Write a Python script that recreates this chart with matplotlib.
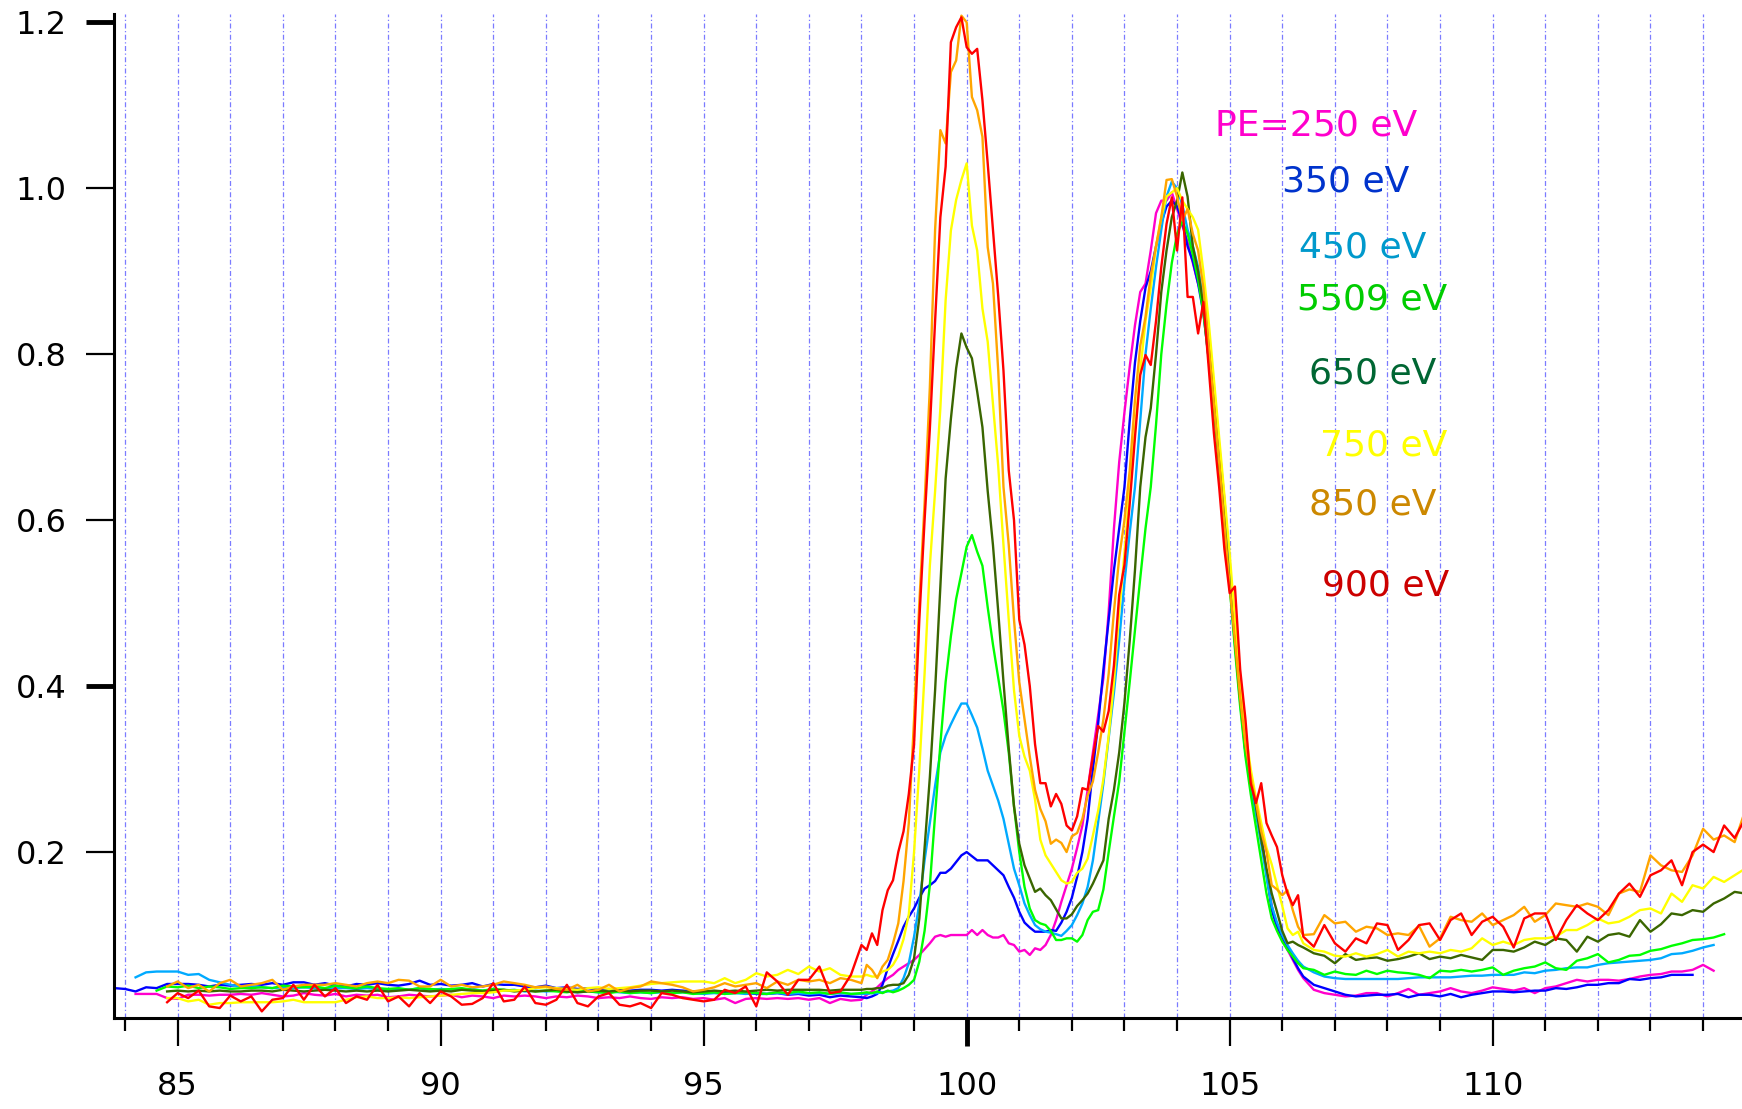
import matplotlib
matplotlib.use("Agg")
import matplotlib.pyplot as plt
import numpy as np
from matplotlib.ticker import FormatStrFormatter

plt.rcParams['font.family'] = ['DejaVu Sans']

nan = np.nan

# energy grid: 0.2 eV steps on the flat parts, 0.1 eV across the two peaks
x_lo = np.arange(838, 979, 2) / 10.0     # 83.8 .. 97.8
x_mid = np.arange(980, 1065) / 10.0      # 98.0 .. 106.4
x_hi = np.arange(1066, 1149, 2) / 10.0   # 106.6 .. 114.8
energy = np.concatenate([x_lo, x_mid, x_hi])

pe250 = [
    nan, nan, 0.029, 0.029, 0.029, 0.024, 0.023, 0.028, 0.028, 0.027,
    0.028, 0.028, 0.029, 0.028, 0.030, 0.028, 0.026, 0.027, 0.030, 0.028,
    0.027, 0.029, 0.026, 0.028, 0.027, 0.028, 0.025, 0.026, 0.028, 0.027,
    0.026, 0.027, 0.028, 0.025, 0.027, 0.026, 0.024, 0.027, 0.026, 0.027,
    0.026, 0.024, 0.026, 0.025, 0.027, 0.026, 0.024, 0.025, 0.024, 0.026,
    0.024, 0.023, 0.025, 0.024, 0.025, 0.023, 0.024, 0.022, 0.024, 0.018,
    0.023, 0.024, 0.023, 0.024, 0.023, 0.024, 0.022, 0.024, 0.018, 0.023,
    0.021,
    # 98.0 - 106.4
    0.022, 0.028, 0.032, 0.037, 0.043, 0.048, 0.052, 0.058, 0.062, 0.066,
    0.070, 0.076, 0.083, 0.090, 0.098, 0.100, 0.098, 0.100, 0.100, 0.100,
    0.100, 0.106, 0.100, 0.106, 0.100, 0.097, 0.097, 0.100, 0.090, 0.088,
    0.080, 0.082, 0.076, 0.084, 0.082, 0.088, 0.100, 0.118, 0.140, 0.160,
    0.180, 0.205, 0.232, 0.275, 0.320, 0.365, 0.410, 0.490, 0.590, 0.670,
    0.730, 0.785, 0.835, 0.875, 0.885, 0.925, 0.970, 0.985, 0.985, 0.995,
    0.975, 0.955, 0.935, 0.910, 0.885, 0.865, 0.825, 0.760, 0.690, 0.625,
    0.545, 0.470, 0.400, 0.330, 0.290, 0.255, 0.220, 0.175, 0.135, 0.110,
    0.095, 0.082, 0.070, 0.058, 0.048,
    # 106.6 - 114.8
    0.034, 0.030, 0.028, 0.026, 0.027, 0.030, 0.030, 0.026, 0.030, 0.035,
    0.028, 0.030, 0.032, 0.036, 0.032, 0.030, 0.033, 0.037, 0.035, 0.033,
    0.036, 0.030, 0.036, 0.038, 0.042, 0.046, 0.044, 0.046, 0.046, 0.045,
    0.047, 0.050, 0.052, 0.053, 0.056, 0.056, 0.058, 0.064, 0.057, nan,
    nan, nan,
]

pe350 = [
    0.036, 0.035, 0.032, 0.037, 0.036, 0.041, 0.041, 0.041, 0.040, 0.038,
    0.040, 0.039, 0.040, 0.041, 0.040, 0.042, 0.040, 0.043, 0.043, 0.040,
    0.042, 0.039, 0.038, 0.041, 0.040, 0.042, 0.040, 0.039, 0.041, 0.045,
    0.040, 0.041, 0.039, 0.040, 0.042, 0.038, 0.041, 0.040, 0.040, 0.038,
    0.037, 0.039, 0.036, 0.037, 0.035, 0.036, 0.034, 0.035, 0.034, 0.033,
    0.034, 0.034, 0.033, 0.034, 0.033, 0.032, 0.032, 0.031, 0.030, 0.031,
    0.030, 0.029, 0.029, 0.030, 0.028, 0.029, 0.027, 0.028, 0.025, 0.027,
    0.026,
    0.025, 0.024, 0.026, 0.029, 0.040, 0.060, 0.077, 0.093, 0.110, 0.122,
    0.132, 0.145, 0.156, 0.160, 0.165, 0.175, 0.175, 0.180, 0.188, 0.196,
    0.200, 0.195, 0.190, 0.190, 0.190, 0.184, 0.178, 0.172, 0.158, 0.145,
    0.128, 0.115, 0.109, 0.104, 0.104, 0.104, 0.106, 0.105, 0.115, 0.128,
    0.145, 0.170, 0.200, 0.240, 0.300, 0.355, 0.420, 0.480, 0.540, 0.590,
    0.640, 0.720, 0.790, 0.840, 0.880, 0.900, 0.930, 0.958, 0.978, 0.985,
    0.978, 0.960, 0.930, 0.912, 0.885, 0.850, 0.795, 0.735, 0.670, 0.610,
    0.530, 0.460, 0.390, 0.320, 0.285, 0.250, 0.220, 0.175, 0.130, 0.110,
    0.098, 0.085, 0.072, 0.060, 0.050,
    0.040, 0.036, 0.032, 0.028, 0.026, 0.027, 0.028, 0.028, 0.029, 0.025,
    0.028, 0.028, 0.026, 0.029, 0.025, 0.028, 0.030, 0.032, 0.032, 0.031,
    0.032, 0.033, 0.033, 0.036, 0.035, 0.037, 0.040, 0.040, 0.042, 0.042,
    0.047, 0.046, 0.048, 0.049, 0.052, 0.052, 0.052, nan, nan, nan,
    nan, nan,
]

pe450 = [
    nan, nan, 0.049, 0.055, 0.056, 0.056, 0.056, 0.052, 0.053, 0.046,
    0.043, 0.040, 0.038, 0.038, 0.037, 0.036, 0.037, 0.036, 0.037, 0.036,
    0.035, 0.036, 0.036, 0.035, 0.036, 0.035, 0.034, 0.035, 0.034, 0.036,
    0.034, 0.035, 0.034, 0.034, 0.035, 0.033, 0.034, 0.033, 0.034, 0.032,
    0.033, 0.032, 0.033, 0.032, 0.031, 0.032, 0.031, 0.032, 0.031, 0.030,
    0.031, 0.030, 0.031, 0.030, 0.031, 0.030, 0.029, 0.030, 0.029, 0.030,
    0.029, 0.030, 0.029, 0.030, 0.029, 0.030, 0.029, 0.030, 0.029, 0.030,
    0.029,
    0.029, 0.029, 0.030, 0.030, 0.031, 0.032, 0.033, 0.036, 0.048, 0.066,
    0.098, 0.138, 0.190, 0.235, 0.280, 0.320, 0.340, 0.354, 0.367, 0.379,
    0.379, 0.365, 0.350, 0.325, 0.298, 0.280, 0.262, 0.240, 0.210, 0.180,
    0.160, 0.138, 0.124, 0.112, 0.107, 0.104, 0.103, 0.101, 0.099, 0.105,
    0.112, 0.124, 0.138, 0.158, 0.190, 0.236, 0.283, 0.338, 0.392, 0.455,
    0.525, 0.585, 0.640, 0.720, 0.800, 0.855, 0.905, 0.950, 0.990, 1.008,
    1.000, 0.980, 0.950, 0.930, 0.905, 0.865, 0.805, 0.740, 0.670, 0.600,
    0.525, 0.450, 0.380, 0.320, 0.280, 0.245, 0.210, 0.170, 0.135, 0.115,
    0.100, 0.088, 0.078, 0.069, 0.062,
    0.055, 0.050, 0.048, 0.047, 0.047, 0.047, 0.047, 0.047, 0.047, 0.048,
    0.049, 0.049, 0.049, 0.049, 0.050, 0.051, 0.051, 0.052, 0.052, 0.052,
    0.055, 0.054, 0.057, 0.058, 0.060, 0.061, 0.061, 0.064, 0.066, 0.067,
    0.068, 0.069, 0.070, 0.072, 0.077, 0.078, 0.081, 0.085, 0.088, nan,
    nan, nan,
]

pe550 = [
    nan, nan, nan, nan, 0.033, 0.038, 0.037, 0.039, 0.036, 0.038,
    0.037, 0.035, 0.036, 0.036, 0.037, 0.036, 0.039, 0.038, 0.037, 0.038,
    0.036, 0.039, 0.037, 0.036, 0.038, 0.036, 0.035, 0.036, 0.034, 0.036,
    0.035, 0.034, 0.035, 0.036, 0.034, 0.033, 0.035, 0.034, 0.033, 0.034,
    0.032, 0.033, 0.032, 0.031, 0.033, 0.032, 0.031, 0.030, 0.032, 0.030,
    0.031, 0.030, 0.032, 0.030, 0.031, 0.029, 0.030, 0.031, 0.029, 0.030,
    0.031, 0.030, 0.029, 0.031, 0.030, 0.032, 0.030, 0.031, 0.029, 0.031,
    0.029,
    0.030, 0.031, 0.030, 0.032, 0.030, 0.033, 0.031, 0.033, 0.036, 0.040,
    0.046, 0.068, 0.105, 0.160, 0.245, 0.330, 0.405, 0.460, 0.505, 0.536,
    0.568, 0.582, 0.562, 0.545, 0.495, 0.450, 0.410, 0.370, 0.320, 0.255,
    0.200, 0.158, 0.132, 0.118, 0.114, 0.112, 0.105, 0.094, 0.094, 0.096,
    0.096, 0.092, 0.100, 0.118, 0.128, 0.130, 0.155, 0.200, 0.243, 0.285,
    0.345, 0.405, 0.468, 0.530, 0.590, 0.640, 0.715, 0.800, 0.860, 0.910,
    0.945, 0.960, 0.945, 0.920, 0.890, 0.850, 0.795, 0.735, 0.665, 0.595,
    0.520, 0.445, 0.375, 0.315, 0.270, 0.230, 0.190, 0.150, 0.120, 0.105,
    0.092, 0.082, 0.074, 0.066, 0.060,
    0.058, 0.052, 0.056, 0.053, 0.052, 0.057, 0.053, 0.057, 0.055, 0.054,
    0.052, 0.048, 0.057, 0.056, 0.058, 0.056, 0.058, 0.061, 0.052, 0.057,
    0.060, 0.062, 0.067, 0.060, 0.058, 0.069, 0.072, 0.077, 0.067, 0.070,
    0.075, 0.076, 0.081, 0.083, 0.087, 0.090, 0.094, 0.095, 0.097, 0.101,
    nan, nan,
]

pe650 = [
    nan, nan, nan, nan, nan, 0.032, 0.033, 0.032, 0.033, 0.032,
    0.033, 0.032, 0.032, 0.033, 0.033, 0.032, 0.034, 0.033, 0.032, 0.033,
    0.034, 0.033, 0.032, 0.033, 0.032, 0.033, 0.032, 0.033, 0.034, 0.033,
    0.032, 0.033, 0.032, 0.034, 0.033, 0.032, 0.033, 0.034, 0.032, 0.033,
    0.032, 0.033, 0.034, 0.032, 0.031, 0.032, 0.033, 0.032, 0.033, 0.032,
    0.033, 0.033, 0.032, 0.033, 0.032, 0.031, 0.032, 0.033, 0.032, 0.033,
    0.032, 0.033, 0.034, 0.033, 0.034, 0.034, 0.034, 0.034, 0.033, 0.034,
    0.034,
    0.034, 0.035, 0.035, 0.036, 0.036, 0.039, 0.040, 0.040, 0.042, 0.052,
    0.072, 0.120, 0.205, 0.290, 0.395, 0.520, 0.650, 0.722, 0.783, 0.825,
    0.808, 0.795, 0.755, 0.712, 0.635, 0.570, 0.490, 0.405, 0.325, 0.255,
    0.210, 0.184, 0.168, 0.152, 0.156, 0.148, 0.142, 0.131, 0.120, 0.120,
    0.125, 0.135, 0.142, 0.150, 0.162, 0.176, 0.190, 0.240, 0.275, 0.320,
    0.380, 0.455, 0.540, 0.640, 0.700, 0.735, 0.800, 0.875, 0.925, 0.965,
    0.985, 1.019, 0.990, 0.930, 0.900, 0.860, 0.810, 0.745, 0.675, 0.600,
    0.525, 0.455, 0.385, 0.330, 0.290, 0.255, 0.215, 0.180, 0.150, 0.128,
    0.105, 0.090, 0.092, 0.088, 0.085,
    0.078, 0.075, 0.066, 0.077, 0.070, 0.072, 0.073, 0.069, 0.071, 0.074,
    0.078, 0.071, 0.074, 0.072, 0.076, 0.073, 0.070, 0.082, 0.082, 0.080,
    0.085, 0.092, 0.088, 0.096, 0.094, 0.080, 0.098, 0.092, 0.100, 0.102,
    0.098, 0.118, 0.104, 0.113, 0.126, 0.124, 0.130, 0.128, 0.138, 0.144,
    0.152, 0.150,
]

pe750 = [
    nan, nan, nan, nan, nan, 0.024, 0.024, 0.020, 0.022, 0.016,
    0.018, 0.018, 0.019, 0.019, 0.019, 0.019, 0.020, 0.022, 0.019, 0.019,
    0.019, 0.019, 0.022, 0.025, 0.026, 0.024, 0.024, 0.025, 0.024, 0.025,
    0.026, 0.027, 0.028, 0.029, 0.030, 0.030, 0.031, 0.033, 0.033, 0.034,
    0.036, 0.037, 0.036, 0.035, 0.034, 0.036, 0.037, 0.035, 0.036, 0.037,
    0.039, 0.041, 0.042, 0.043, 0.044, 0.044, 0.044, 0.042, 0.048, 0.042,
    0.046, 0.054, 0.050, 0.052, 0.058, 0.053, 0.062, 0.056, 0.060, 0.052,
    0.050,
    0.050, 0.052, 0.050, 0.050, 0.056, 0.058, 0.064, 0.075, 0.095, 0.125,
    0.200, 0.300, 0.415, 0.545, 0.635, 0.735, 0.865, 0.949, 0.986, 1.010,
    1.030, 0.955, 0.925, 0.855, 0.815, 0.740, 0.665, 0.570, 0.480, 0.395,
    0.340, 0.315, 0.298, 0.263, 0.215, 0.196, 0.186, 0.176, 0.166, 0.162,
    0.164, 0.175, 0.180, 0.192, 0.220, 0.250, 0.288, 0.340, 0.405, 0.490,
    0.560, 0.640, 0.710, 0.780, 0.840, 0.880, 0.930, 0.965, 0.990, 0.995,
    1.000, 0.985, 0.975, 0.965, 0.950, 0.900, 0.840, 0.770, 0.700, 0.630,
    0.560, 0.480, 0.410, 0.345, 0.300, 0.265, 0.235, 0.205, 0.185, 0.160,
    0.135, 0.108, 0.100, 0.104, 0.090,
    0.082, 0.080, 0.075, 0.074, 0.078, 0.074, 0.077, 0.082, 0.074, 0.080,
    0.078, 0.080, 0.078, 0.082, 0.080, 0.084, 0.096, 0.088, 0.092, 0.088,
    0.094, 0.096, 0.096, 0.098, 0.106, 0.106, 0.112, 0.120, 0.114, 0.116,
    0.122, 0.130, 0.132, 0.126, 0.150, 0.140, 0.160, 0.156, 0.170, 0.164,
    0.172, 0.180,
]

pe850 = [
    nan, nan, nan, nan, nan, 0.038, 0.044, 0.036, 0.040, 0.032,
    0.042, 0.046, 0.038, 0.040, 0.042, 0.046, 0.034, 0.038, 0.040, 0.040,
    0.040, 0.042, 0.040, 0.038, 0.042, 0.044, 0.042, 0.046, 0.045, 0.038,
    0.038, 0.046, 0.038, 0.040, 0.037, 0.038, 0.040, 0.044, 0.042, 0.040,
    0.037, 0.038, 0.035, 0.034, 0.040, 0.032, 0.034, 0.040, 0.032, 0.036,
    0.038, 0.044, 0.042, 0.040, 0.037, 0.032, 0.034, 0.037, 0.042, 0.038,
    0.040, 0.042, 0.036, 0.044, 0.040, 0.046, 0.044, 0.046, 0.042, 0.048,
    0.046,
    0.042, 0.064, 0.058, 0.048, 0.062, 0.070, 0.090, 0.114, 0.165, 0.235,
    0.360, 0.500, 0.620, 0.760, 0.950, 1.070, 1.054, 1.140, 1.154, 1.208,
    1.200, 1.110, 1.094, 1.062, 0.929, 0.885, 0.780, 0.640, 0.570, 0.480,
    0.405, 0.360, 0.315, 0.275, 0.252, 0.237, 0.210, 0.215, 0.211, 0.200,
    0.219, 0.223, 0.240, 0.268, 0.285, 0.320, 0.360, 0.415, 0.490, 0.555,
    0.600, 0.660, 0.745, 0.810, 0.845, 0.895, 0.930, 0.965, 1.010, 1.011,
    0.990, 0.961, 0.975, 0.945, 0.925, 0.880, 0.810, 0.740, 0.670, 0.595,
    0.520, 0.455, 0.385, 0.330, 0.290, 0.260, 0.225, 0.200, 0.160, 0.155,
    0.148, 0.154, 0.130, 0.110, 0.100,
    0.101, 0.124, 0.114, 0.116, 0.104, 0.110, 0.108, 0.100, 0.102, 0.100,
    0.111, 0.086, 0.096, 0.122, 0.118, 0.116, 0.126, 0.112, 0.118, 0.124,
    0.134, 0.116, 0.124, 0.138, 0.136, 0.134, 0.138, 0.134, 0.124, 0.150,
    0.155, 0.152, 0.196, 0.184, 0.178, 0.176, 0.196, 0.228, 0.215, 0.220,
    0.212, 0.250,
]

pe900 = [
    nan, nan, nan, nan, nan, 0.019, 0.030, 0.024, 0.033, 0.014,
    0.012, 0.027, 0.020, 0.026, 0.008, 0.022, 0.024, 0.040, 0.022, 0.040,
    0.026, 0.036, 0.018, 0.026, 0.022, 0.040, 0.020, 0.026, 0.014, 0.030,
    0.018, 0.032, 0.026, 0.016, 0.017, 0.024, 0.042, 0.020, 0.022, 0.038,
    0.018, 0.016, 0.022, 0.040, 0.018, 0.014, 0.026, 0.030, 0.016, 0.014,
    0.018, 0.012, 0.030, 0.028, 0.024, 0.022, 0.020, 0.022, 0.034, 0.030,
    0.038, 0.014, 0.055, 0.044, 0.028, 0.046, 0.046, 0.062, 0.030, 0.032,
    0.052,
    0.088, 0.082, 0.102, 0.088, 0.130, 0.154, 0.166, 0.200, 0.225, 0.270,
    0.330, 0.480, 0.600, 0.710, 0.840, 0.965, 1.026, 1.176, 1.194, 1.206,
    1.170, 1.162, 1.168, 1.106, 1.030, 0.950, 0.870, 0.780, 0.660, 0.600,
    0.480, 0.450, 0.400, 0.330, 0.283, 0.283, 0.255, 0.270, 0.258, 0.232,
    0.226, 0.243, 0.277, 0.275, 0.315, 0.352, 0.345, 0.370, 0.425, 0.510,
    0.546, 0.620, 0.700, 0.775, 0.799, 0.787, 0.840, 0.905, 0.957, 0.989,
    0.925, 0.989, 0.869, 0.869, 0.825, 0.863, 0.785, 0.705, 0.640, 0.565,
    0.512, 0.520, 0.420, 0.360, 0.283, 0.259, 0.283, 0.235, 0.220, 0.206,
    0.172, 0.150, 0.136, 0.148, 0.098,
    0.086, 0.112, 0.090, 0.080, 0.096, 0.090, 0.114, 0.112, 0.082, 0.094,
    0.112, 0.114, 0.094, 0.118, 0.126, 0.100, 0.116, 0.122, 0.110, 0.085,
    0.120, 0.126, 0.126, 0.094, 0.118, 0.136, 0.126, 0.118, 0.130, 0.150,
    0.162, 0.146, 0.172, 0.178, 0.190, 0.160, 0.200, 0.209, 0.200, 0.232,
    0.217, 0.240,
]

series = [pe250, pe350, pe450, pe550, pe650, pe750, pe850, pe900]
line_colors = ['#ff00cc', '#0000ff', '#00aaff', '#00ff00',
               '#3a6600', '#ffff00', '#ffa500', '#ff0000']

labels = ['PE=250 eV', '350 eV', '450 eV', '5509 eV',
          '650 eV', '750 eV', '850 eV', '900 eV']
label_colors = ['#ff00cc', '#0033cc', '#0099cc', '#00cc00',
                '#006633', '#ffff00', '#cc8800', '#cc0000']
label_pos = [(104.72, 1.076), (106.0, 1.008), (106.32, 0.929), (106.28, 0.866),
             (106.5, 0.777), (106.72, 0.690), (106.5, 0.619), (106.75, 0.521)]

fig = plt.figure(figsize=(17.42, 11.09), dpi=100)
ax = fig.add_axes([114 / 1742, 91 / 1109, 1628 / 1742, 1004 / 1109])

for vals, c in zip(series, line_colors):
    ax.plot(energy, np.array(vals, dtype=float), color=c, lw=1.7)

for s, c, (tx, ty) in zip(labels, label_colors, label_pos):
    ax.text(tx, ty, s, color=c, fontsize=26, ha='left', va='center')

ax.set_xlim(83.79, 114.74)
ax.set_ylim(0, 1.21)

ax.set_xticks(np.arange(85, 115, 5))
ax.set_xticks(np.arange(84, 115, 1), minor=True)
yt = [0.2, 0.4, 0.6, 0.8, 1.0, 1.2]
ax.set_yticks(yt)
ax.yaxis.set_major_formatter(FormatStrFormatter('%.1f'))

ax.tick_params(axis='x', which='major', length=20, width=1.6, pad=18,
               labelsize=23)
ax.tick_params(axis='x', which='minor', length=9.5, width=1.6)
ax.tick_params(axis='y', which='major', length=20, width=1.6, pad=14,
               labelsize=23)

for t, v in zip(ax.yaxis.get_major_ticks(), yt):
    if v in (0.4, 1.2):
        t.tick1line.set_markeredgewidth(3.5)
for t, v in zip(ax.xaxis.get_major_ticks(), np.arange(85, 115, 5)):
    if v == 100:
        t.tick1line.set_markeredgewidth(3.5)

ax.grid(axis='x', which='both', color='#7b7bff', lw=0.9,
        linestyle=(0, (4, 2, 1, 2)))
ax.set_axisbelow(True)

for side in ['top', 'right']:
    ax.spines[side].set_visible(False)
for side in ['left', 'bottom']:
    ax.spines[side].set_linewidth(2.2)

fig.savefig('out.png', dpi=100)
